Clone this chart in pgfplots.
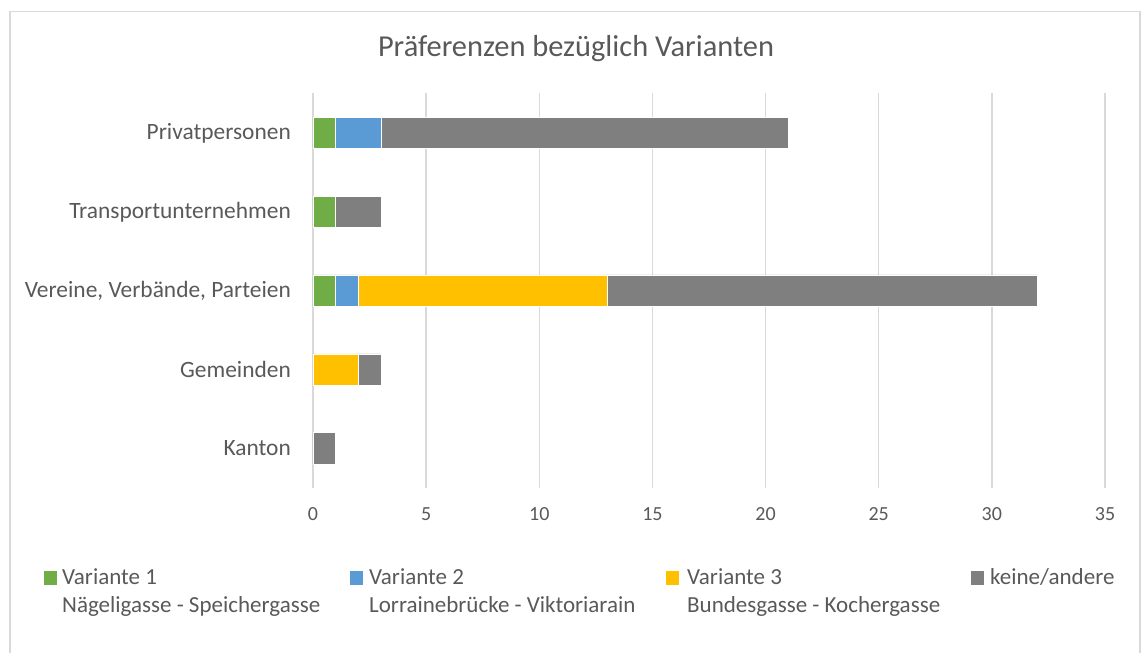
\documentclass[border=0pt]{standalone}
\usepackage{fontspec}
\setmainfont{Carlito}
\usepackage{pgfplots}
\pgfplotsset{compat=1.18}
\definecolor{vone}{HTML}{70AD47}
\definecolor{vtwo}{HTML}{5B9BD5}
\definecolor{vthree}{HTML}{FFC000}
\definecolor{vnone}{HTML}{7F7F7F}
\definecolor{txt}{HTML}{595959}
\definecolor{gridc}{HTML}{D9D9D9}
\definecolor{framec}{HTML}{D9D9D9}
\begin{document}
\begin{tikzpicture}[x=1pt,y=1pt]
\useasboundingbox (0,0) rectangle (1141,653);
\draw[color=framec, line width=1.5pt] (10,0) -- (10,641.5) -- (1140,641.5) -- (1140,0);
\node[anchor=base, text=txt, font=\fontsize{30.4}{36}\selectfont] at (576,596) {Präferenzen bezüglich Varianten};
\begin{axis}[
  at={(313pt,165pt)}, anchor=south west,
  scale only axis, width=792pt, height=394.5pt,
  xbar stacked,
  xmin=0, xmax=35, ymin=-0.5, ymax=4.5,
  bar width=31.6pt,
  xtick={0,5,...,35},
  ytick={0,1,2,3,4},
  yticklabels={Kanton,Gemeinden,{Vereine, Verbände, Parteien},Transportunternehmen,Privatpersonen},
  xmajorgrids,
  major grid style={draw=gridc, line width=1.4pt},
  axis line style={draw=none},
  tick style={draw=none},
  major tick length=0pt,
  /pgf/number format/assume math mode=true,
  xticklabel style={font=\fontsize{20}{24}\selectfont, text=txt, inner sep=0pt, yshift=-19pt},
  yticklabel style={font=\fontsize{23.4}{28}\selectfont, text=txt, inner sep=0pt, xshift=-22pt},
]
\addplot[fill=vone, draw=white, line width=0.6pt] coordinates {(0,0) (0,1) (1,2) (1,3) (1,4)};
\addplot[fill=vtwo, draw=white, line width=0.6pt] coordinates {(0,0) (0,1) (1,2) (0,3) (2,4)};
\addplot[fill=vthree, draw=white, line width=0.6pt] coordinates {(0,0) (2,1) (11,2) (0,3) (0,4)};
\addplot[fill=vnone, draw=white, line width=0.6pt] coordinates {(1,0) (1,1) (19,2) (2,3) (18,4)};
\end{axis}
% legend
\begin{scope}[every node/.style={anchor=base west, text=txt, inner sep=0pt, font=\fontsize{23}{28}\selectfont}]
\fill[vone] (44,68) rectangle (57,82);
\node at (62,68) {Variante 1};
\node at (62,40) {Nägeligasse - Speichergasse};
\fill[vtwo] (350,68) rectangle (363,82);
\node at (369,68) {Variante 2};
\node at (369,40) {Lorrainebrücke - Viktoriarain};
\fill[vthree] (666,68) rectangle (679,82);
\node at (687,68) {Variante 3};
\node at (687,40) {Bundesgasse - Kochergasse};
\fill[vnone] (971,68) rectangle (984,82);
\node at (990,68) {keine/andere};
\end{scope}
\end{tikzpicture}
\end{document}
